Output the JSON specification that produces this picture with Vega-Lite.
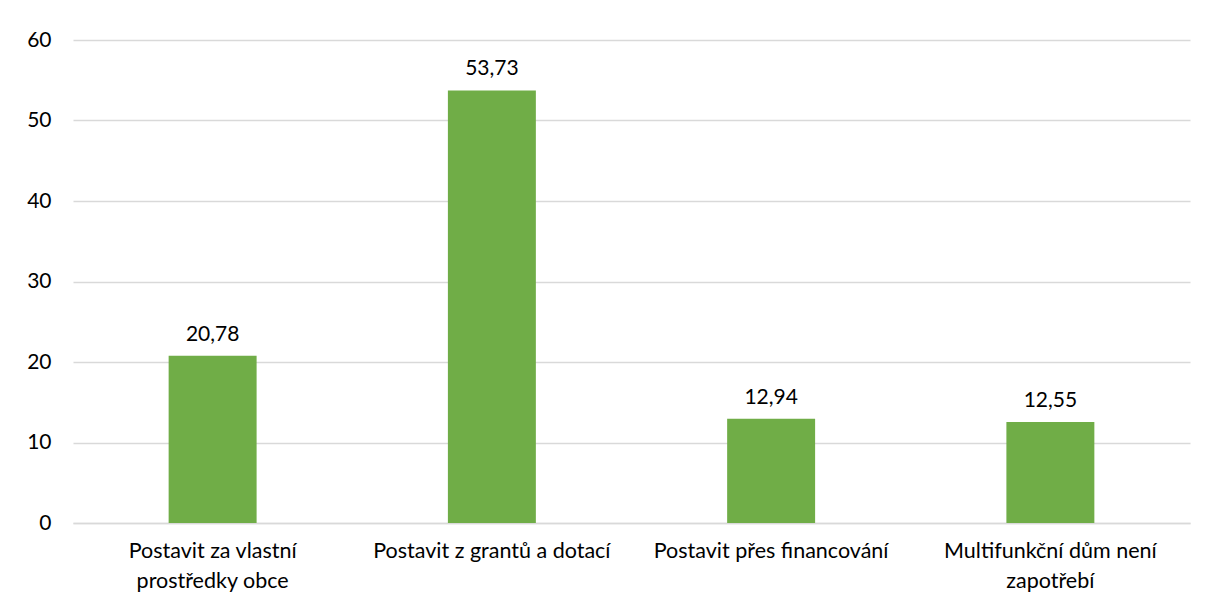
{
  "$schema": "https://vega.github.io/schema/vega-lite/v6.json",
  "width": 1117,
  "height": 483,
  "autosize": "none",
  "padding": {"left": 73, "top": 40, "right": 25, "bottom": 85},
  "background": "white",
  "config": {
    "font": "Lato",
    "view": {"stroke": null},
    "locale": {"number": {"decimal": ",", "thousands": " ", "grouping": [3], "currency": ["", " Kč"]}}
  },
  "data": {
    "values": [
      {"kategorie": "Postavit za vlastní|prostředky obce", "hodnota": 20.78},
      {"kategorie": "Postavit z grantů a dotací", "hodnota": 53.73},
      {"kategorie": "Postavit přes financování", "hodnota": 12.94},
      {"kategorie": "Multifunkční dům není|zapotřebí", "hodnota": 12.55}
    ]
  },
  "encoding": {
    "x": {
      "field": "kategorie",
      "type": "nominal",
      "sort": null,
      "scale": {"paddingInner": 0.685, "paddingOuter": 0.3425},
      "axis": {
        "title": null,
        "labelAngle": 0,
        "labelExpr": "split(datum.label, '|')",
        "labelFontSize": 21.5,
        "labelColor": "#000000",
        "labelLineHeight": 30,
        "labelPadding": 17,
        "labelBaseline": "top",
        "ticks": false,
        "domainColor": "#d9d9d9",
        "domainWidth": 1.5,
        "labelLimit": 400
      }
    },
    "y": {
      "field": "hodnota",
      "type": "quantitative",
      "scale": {"domain": [0, 60], "nice": false},
      "axis": {
        "title": null,
        "values": [0, 10, 20, 30, 40, 50, 60],
        "labelFontSize": 21,
        "labelColor": "#000000",
        "labelPadding": 22,
        "ticks": false,
        "domain": false,
        "gridColor": "#d9d9d9",
        "gridWidth": 1.5
      }
    }
  },
  "layer": [
    {"mark": {"type": "bar", "color": "#70ad47"}},
    {
      "mark": {"type": "text", "baseline": "bottom", "dy": -11, "fontSize": 21, "color": "#000000"},
      "encoding": {"text": {"field": "hodnota", "type": "quantitative", "format": ".2f"}}
    }
  ]
}
